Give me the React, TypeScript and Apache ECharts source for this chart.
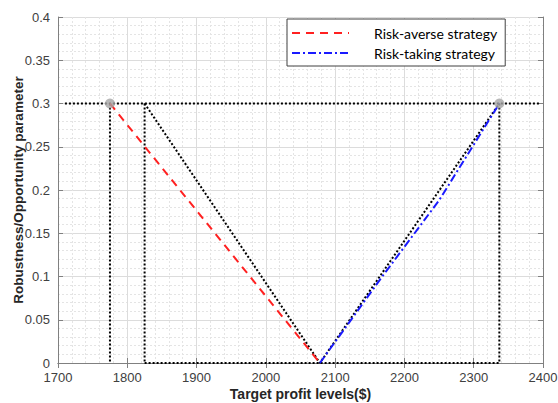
import React, { useEffect, useRef } from "react";
import * as echarts from "echarts";

const xTicks = [1700, 1800, 1900, 2000, 2100, 2200, 2300, 2400];
const yTicks = [0, 0.05, 0.1, 0.15, 0.2, 0.25, 0.3, 0.35, 0.4];

const riskAverse: [number, number][] = [
  [1775, 0.3],
  [2078, 0],
];
const riskTaking: [number, number][] = [
  [2078, 0],
  [2168, 0.1],
  [2250, 0.188],
  [2337, 0.3],
];
const refHorizontal: [number, number][] = [
  [1710, 0.3],
  [2395, 0.3],
];
const refLeftVertical: [number, number][] = [
  [1775, 0.3],
  [1775, 0],
];
const refMidVertical: [number, number][] = [
  [1825, 0.3],
  [1825, 0],
];
const refV: [number, number][] = [
  [1825, 0.3],
  [2078, 0],
  [2337, 0.3],
];
const refRightVertical: [number, number][] = [
  [2337, 0.3],
  [2337, 0],
];
const refBottom: [number, number][] = [
  [1825, 0],
  [2337, 0],
];
const endPoints: [number, number][] = [
  [1775, 0.3],
  [2337, 0.3],
];

const dotted = (data: [number, number][]) => ({
  type: "line",
  data,
  symbol: "none",
  silent: true,
  z: 3,
  lineStyle: { color: "#000", width: 2, type: [2, 2] },
});

export default function App() {
  const ref = useRef<HTMLDivElement>(null);
  useEffect(() => {
    if (!ref.current) return;
    const chart = echarts.init(ref.current, undefined, { renderer: "svg" });
    const axisFont = { fontFamily: "Liberation Sans", fontSize: 13, color: "#404040" };
    const nameFont = { fontFamily: "Liberation Sans", fontSize: 14, fontWeight: "bold", color: "#262626" };
    chart.setOption({
      animation: false,
      backgroundColor: "#fff",
      grid: { left: 58, top: 17, right: 15, bottom: 40, outerBoundsMode: "none", containLabel: false },
      legend: {
        data: ["Risk-averse strategy", "Risk-taking strategy"],
        orient: "vertical",
        left: 287,
        top: 19,
        itemWidth: 57,
        itemHeight: 10,
        itemGap: 6,
        padding: [7, 8, 6, 4],
        backgroundColor: "#fff",
        borderColor: "#404040",
        borderWidth: 1,
        itemStyle: { opacity: 0 },
        textStyle: { fontFamily: "Lato", fontSize: 14, color: "#000", padding: [0, 0, 0, 20] },
      },
      xAxis: [
        {
          type: "value",
          min: xTicks[0],
          max: xTicks[xTicks.length - 1],
          interval: 100,
          name: "Target profit levels($)",
          nameLocation: "middle",
          nameGap: 24,
          nameMoveOverlap: false,
          nameTextStyle: nameFont,
          axisLine: { lineStyle: { color: "#808080" } },
          axisTick: { inside: true, length: 5, lineStyle: { color: "#808080" } },
          axisLabel: { ...axisFont, margin: 8, formatter: (v: number) => String(v) },
          splitLine: { show: true, lineStyle: { color: "#dcdcdc", width: 1 } },
          minorTick: { show: false, splitNumber: 5 },
          minorSplitLine: { show: true, lineStyle: { color: "#e4e4e4", type: [2, 2] } },
        },
        {
          type: "value",
          position: "top",
          min: xTicks[0],
          max: xTicks[xTicks.length - 1],
          interval: 100,
          axisLine: { show: true, lineStyle: { color: "#808080" } },
          axisTick: { show: true, inside: true, length: 5, lineStyle: { color: "#808080" } },
          axisLabel: { show: false },
          splitLine: { show: false },
        },
      ],
      yAxis: [
        {
          type: "value",
          min: yTicks[0],
          max: yTicks[yTicks.length - 1],
          interval: 0.05,
          name: "Robustness/Opportunity parameter",
          nameLocation: "middle",
          nameGap: 33,
          nameMoveOverlap: false,
          nameTextStyle: { ...nameFont, fontSize: 13.5 },
          axisLine: { show: true, lineStyle: { color: "#808080" } },
          axisTick: { show: true, inside: true, length: 5, lineStyle: { color: "#808080" } },
          axisLabel: { ...axisFont, margin: 8, formatter: (v: number) => String(Math.round(v * 100) / 100) },
          splitLine: { show: true, lineStyle: { color: "#dcdcdc", width: 1 } },
          minorTick: { show: false, splitNumber: 5 },
          minorSplitLine: { show: true, lineStyle: { color: "#e4e4e4", type: [2, 2] } },
        },
        {
          type: "value",
          position: "right",
          min: yTicks[0],
          max: yTicks[yTicks.length - 1],
          interval: 0.05,
          axisLine: { show: true, lineStyle: { color: "#808080" } },
          axisTick: { show: true, inside: true, length: 5, lineStyle: { color: "#808080" } },
          axisLabel: { show: false },
          splitLine: { show: false },
        },
      ],
      series: [
        dotted(refHorizontal),
        dotted(refLeftVertical),
        dotted(refMidVertical),
        dotted(refV),
        dotted(refRightVertical),
        dotted(refBottom),
        {
          name: "Risk-averse strategy",
          type: "line",
          data: riskAverse,
          symbol: "none",
          z: 4,
          itemStyle: { color: "#ff2020" },
          lineStyle: { color: "#ff2020", width: 2, type: [8, 6] },
        },
        {
          name: "Risk-taking strategy",
          type: "line",
          data: riskTaking,
          symbol: "none",
          z: 4,
          itemStyle: { color: "#1a1aff" },
          lineStyle: { color: "#1a1aff", width: 2, type: [8, 3, 2, 3] },
        },
        {
          type: "scatter",
          data: endPoints,
          symbolSize: 10,
          z: 5,
          itemStyle: { color: "#a6a6a6" },
        },
      ],
    });
    return () => chart.dispose();
  }, []);
  return (
    <div
      ref={ref}
      style={{ position: "fixed", left: 0, top: 0, width: 558, height: 403 }}
    />
  );
}
